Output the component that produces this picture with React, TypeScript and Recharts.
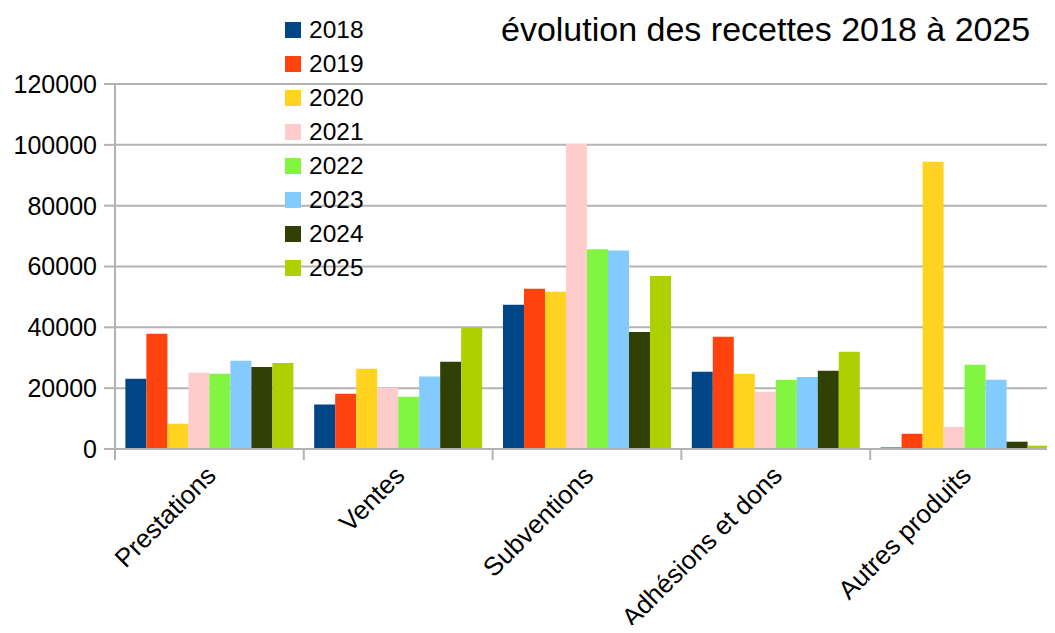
import React from "react";
import {
  BarChart,
  Bar,
  XAxis,
  YAxis,
  CartesianGrid,
  Legend,
} from "recharts";

const categories = [
  "Prestations",
  "Ventes",
  "Subventions",
  "Adhésions et dons",
  "Autres produits",
];

const years = ["2018", "2019", "2020", "2021", "2022", "2023", "2024", "2025"];

const v2018 = [23100, 14600, 47400, 25400, 500];
const v2019 = [37900, 18200, 52700, 36900, 5000];
const v2020 = [8300, 26400, 51700, 24700, 94400];
const v2021 = [25100, 20100, 100300, 18800, 7300];
const v2022 = [24700, 17200, 65700, 22700, 27700];
const v2023 = [29000, 23800, 65300, 23700, 22800];
const v2024 = [27000, 28700, 38500, 25700, 2400];
const v2025 = [28300, 39800, 56900, 32000, 1100];

const yTicks = [0, 20000, 40000, 60000, 80000, 100000, 120000];

const colors = [
  "#004586",
  "#ff420e",
  "#ffd320",
  "#ffcccc",
  "#81f541",
  "#83caff",
  "#314004",
  "#aecf00",
];

const seriesValues = [v2018, v2019, v2020, v2021, v2022, v2023, v2024, v2025];

const data = categories.map((name, i) => {
  const row: Record<string, string | number> = { name };
  years.forEach((y, k) => {
    row[y] = seriesValues[k][i];
  });
  return row;
});

const FONT = "'Liberation Sans', Arial, sans-serif";
const GRID = "#b3b3b3";

function CategoryTick(props: any) {
  const { x, y, payload, index } = props;
  const half = payload.offset ?? 0;
  const tx = x + 8;
  const ty = y + 28;
  return (
    <g>
      <line x1={x - half} y1={y} x2={x - half} y2={y + 11} stroke={GRID} strokeWidth={2} />
      {index === categories.length - 1 && (
        <line x1={x + half} y1={y} x2={x + half} y2={y + 11} stroke={GRID} strokeWidth={2} />
      )}
      <text
        x={tx}
        y={ty}
        textAnchor="end"
        fontSize={26}
        fill="#000"
        fontFamily={FONT}
        transform={`rotate(-45, ${tx}, ${ty})`}
      >
        {payload.value}
      </text>
    </g>
  );
}

function YearLegend({ payload }: any) {
  return (
    <div style={{ fontFamily: FONT }}>
      {(payload ?? []).map((entry: any) => (
        <div
          key={entry.value}
          style={{ display: "flex", alignItems: "center", height: 34 }}
        >
          <span
            style={{
              width: 16,
              height: 16,
              background: entry.color,
              display: "inline-block",
              marginRight: 8,
            }}
          />
          <span style={{ fontSize: 24.5, color: "#000", lineHeight: "34px" }}>
            {entry.value}
          </span>
        </div>
      ))}
    </div>
  );
}

export default function App() {
  return (
    <div
      style={{
        position: "relative",
        width: 1055,
        height: 633,
        margin: -8,
        background: "#fff",
        fontFamily: FONT,
      }}
    >
      <BarChart
        width={1055}
        height={633}
        data={data}
        margin={{ top: 84, right: -4, left: 15, bottom: 0 }}
        barCategoryGap="5.5%"
        barGap={0}
      >
        <CartesianGrid vertical={false} stroke={GRID} strokeWidth={2} />
        <XAxis
          dataKey="name"
          height={184}
          interval={0}
          tickSize={0}
          tickMargin={0}
          axisLine={{ stroke: GRID, strokeWidth: 2 }}
          tickLine={false}
          tick={<CategoryTick />}
        />
        <YAxis
          width={100}
          domain={[0, 120000]}
          ticks={yTicks}
          interval={0}
          tickSize={11}
          tickMargin={7}
          axisLine={{ stroke: GRID, strokeWidth: 2 }}
          tickLine={{ stroke: GRID, strokeWidth: 2 }}
          tick={{ fontSize: 25, fill: "#000", fontFamily: FONT }}
        />
        <Legend
          layout="vertical"
          align="center"
          verticalAlign="middle"
          content={<YearLegend />}
          wrapperStyle={{ left: 285, top: 13, width: 120 }}
        />
        {years.map((y, k) => (
          <Bar
            key={y}
            dataKey={y}
            name={y}
            fill={colors[k]}
            isAnimationActive={false}
          />
        ))}
      </BarChart>
      <div
        style={{
          position: "absolute",
          left: 501,
          top: 9,
          fontSize: 34,
          color: "#000",
          whiteSpace: "nowrap",
          lineHeight: "40px",
        }}
      >
        évolution des recettes 2018 à 2025
      </div>
    </div>
  );
}
